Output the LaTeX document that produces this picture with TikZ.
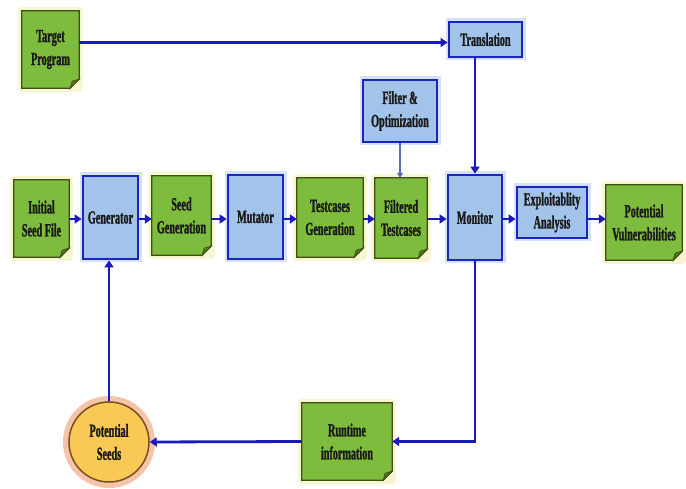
\documentclass[tikz,border=0pt]{standalone}
\usepackage{fontspec}
\setmainfont{Liberation Serif Bold}[FakeStretch=0.55,FakeBold=1.2]
\usetikzlibrary{arrows.meta,backgrounds,calc}
\definecolor{gfill}{RGB}{126,188,62}
\definecolor{gborder}{RGB}{60,80,20}
\definecolor{gfold}{RGB}{85,120,35}
\definecolor{bfill}{RGB}{163,196,234}
\definecolor{bborder}{RGB}{28,36,190}
\definecolor{arr}{RGB}{25,25,190}
\definecolor{thinarr}{RGB}{80,110,190}
\definecolor{sfill}{RGB}{250,200,85}
\definecolor{sborder}{RGB}{120,80,30}
\definecolor{sglow}{RGB}{245,195,165}
\definecolor{gglow}{RGB}{248,246,210}
\definecolor{bglow}{RGB}{212,226,250}
\begin{document}
\begin{tikzpicture}[x=1pt,y=-1pt,
  txt/.style={font=\fontsize{18.5}{23}\selectfont, text=black!90, align=center, inner sep=0pt},
  bluebox/.style={txt, draw=bborder, line width=2.8pt, fill=bfill, preaction={draw=bglow, line width=7pt}},
  greenbox/.style={txt},
  seedcircle/.style={txt, circle, fill=sfill, draw=sborder, line width=1.5pt, preaction={draw=sglow, line width=12pt}},
  flow/.style={draw=arr, line width=2.8pt, -{Triangle[length=7pt,width=9pt]}},
  thinflow/.style={draw=thinarr, line width=1.3pt, -{Triangle[length=5pt,width=6pt]}}
]
\useasboundingbox (0,0) rectangle (686,489);

% green note nodes
\node[greenbox, minimum width=57pt, minimum height=77pt] (tp) at (50.5,49.5) {Target\\Program};
\node[greenbox, minimum width=55pt, minimum height=77pt] (isf) at (41.5,218.5) {Initial\\Seed File};
\node[greenbox, minimum width=59pt, minimum height=79pt] (sg) at (181.5,215.5) {Seed\\Generation};
\node[greenbox, minimum width=66pt, minimum height=79pt] (tg) at (330,217.5) {Testcases\\Generation};
\node[greenbox, minimum width=52pt, minimum height=80pt] (ft) at (401,218) {Filtered\\Testcases};
\node[greenbox, minimum width=76pt, minimum height=75pt] (pv) at (644,222.5) {Potential\\Vulnerabilities};
\node[greenbox, minimum width=90pt, minimum height=77pt] (ri) at (347,441.5) {Runtime\\information};

% blue process nodes
\node[bluebox, minimum width=73pt, minimum height=35pt] (trans) at (485.5,39.5) {Translation};
\node[bluebox, minimum width=74pt, minimum height=62pt] (filt) at (400,111) {Filter \&\\Optimization};
\node[bluebox, minimum width=55pt, minimum height=83pt] (gen) at (110.5,217.5) {Generator};
\node[bluebox, minimum width=55pt, minimum height=84pt] (mut) at (255.5,217) {Mutator};
\node[bluebox, minimum width=54pt, minimum height=85pt] (mon) at (475,217.5) {Monitor};
\node[bluebox, minimum width=70pt, minimum height=51pt] (ea) at (552,212.5) {Exploitablity\\Analysis};

% seed circle
\node[seedcircle, minimum size=80pt] (ps) at (109,442) {Potential\\Seeds};

% note shapes behind green nodes
\begin{scope}[on background layer]
\fill[white] (0,0) rectangle (686,489);
\foreach \n in {tp,isf,sg,tg,ft,pv,ri}{
  \draw[gglow, line width=8pt, line join=round] (\n.north west) rectangle (\n.south east);
  \filldraw[fill=gfill, draw=gborder, line width=1.2pt]
    (\n.north west) -- (\n.north east) -- ([yshift=9pt]\n.south east)
    -- ([xshift=-9pt]\n.south east) -- (\n.south west) -- cycle;
  \filldraw[fill=gfold, draw=gborder, line width=0.8pt]
    ([yshift=9pt]\n.south east) -- ([xshift=-9pt]\n.south east)
    -- ([xshift=-7pt,yshift=7pt]\n.south east) -- cycle;
}
\end{scope}

% connectors
\coordinate (row) at (0,219);
\draw[flow] ([yshift=-3pt]tp.east |- trans.west) -- ([yshift=-3pt]trans.west);
\draw[flow] (mon.north |- trans.south) -- (mon.north);
\draw[thinflow] (filt.south) -- (filt.south |- ft.north);
\draw[flow] (isf.east |- row) -- (gen.west |- row);
\draw[flow] (gen.east |- row) -- (sg.west |- row);
\draw[flow] (sg.east |- row) -- (mut.west |- row);
\draw[flow] (mut.east |- row) -- (tg.west |- row);
\draw[flow] (tg.east |- row) -- (ft.west |- row);
\draw[flow] (ft.east |- row) -- (mon.west |- row);
\draw[flow] (mon.east |- row) -- (ea.west |- row);
\draw[flow] (ea.east |- row) -- (pv.west |- row);
\draw[flow] (mon.south) -- (mon.south |- ri.east) -- (ri.east);
\draw[flow] (ri.west) -- (ps.east);
\draw[flow] (ps.north) -- (ps.north |- gen.south);
\end{tikzpicture}
\end{document}
